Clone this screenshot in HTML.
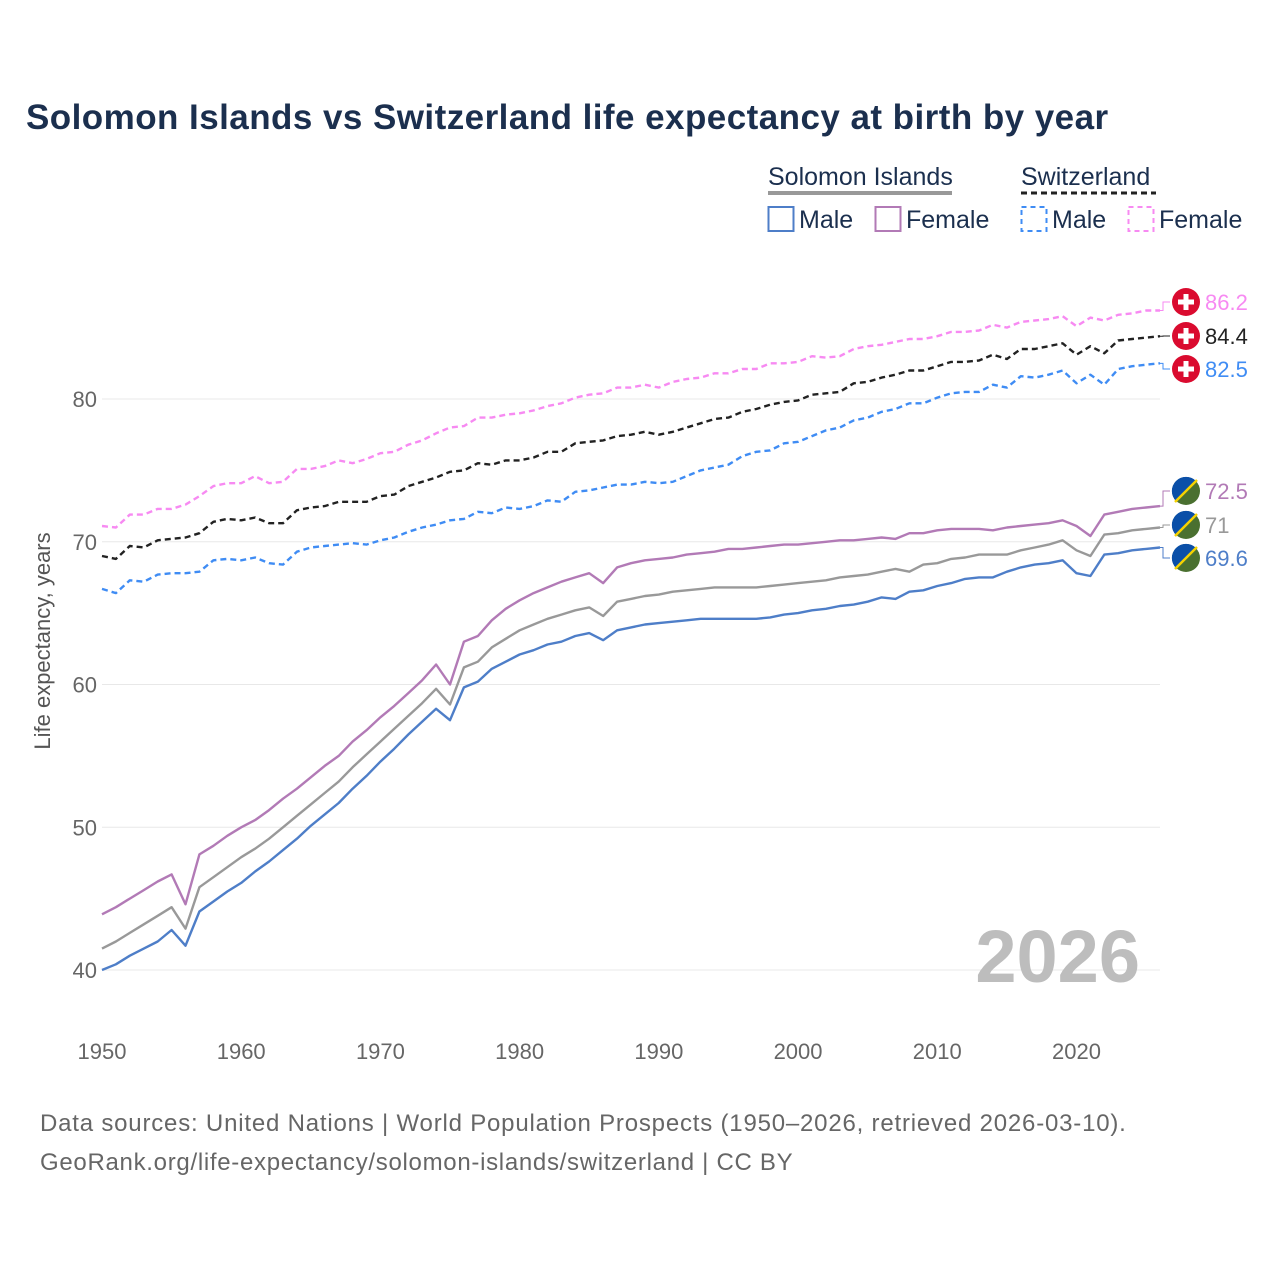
<!DOCTYPE html>
<html><head><meta charset="utf-8"><style>
body{margin:0;background:#fff;font-family:"Liberation Sans",sans-serif}
svg text{font-family:"Liberation Sans",sans-serif}
</style></head><body>
<svg width="1280" height="1280" viewBox="0 0 1280 1280">
<rect width="1280" height="1280" fill="#fff"/>
<text x="26" y="129" font-size="35" font-weight="bold" fill="#1b2f4e" letter-spacing="0.45">Solomon Islands vs Switzerland life expectancy at birth by year</text>
<g>
<text x="768" y="185" font-size="25" fill="#1b2f4e">Solomon Islands</text>
<line x1="768" y1="193" x2="952" y2="193" stroke="#999" stroke-width="4"/>
<text x="1021" y="185" font-size="25" fill="#1b2f4e">Switzerland</text>
<line x1="1021" y1="193" x2="1156" y2="193" stroke="#222" stroke-width="3" stroke-dasharray="6,4"/>
<rect x="768.5" y="207" width="25" height="24" fill="none" stroke="#4e7ec8" stroke-width="2"/>
<text x="799" y="228" font-size="25" fill="#1b2f4e">Male</text>
<rect x="875.5" y="207" width="25" height="24" fill="none" stroke="#b27ab6" stroke-width="2"/>
<text x="906" y="228" font-size="25" fill="#1b2f4e">Female</text>
<rect x="1021.5" y="207" width="25" height="24" fill="none" stroke="#3f8cf4" stroke-width="2" stroke-dasharray="5,4"/>
<text x="1052" y="228" font-size="25" fill="#1b2f4e">Male</text>
<rect x="1128.5" y="207" width="25" height="24" fill="none" stroke="#f78af2" stroke-width="2" stroke-dasharray="5,4"/>
<text x="1159" y="228" font-size="25" fill="#1b2f4e">Female</text>
</g>
<g id="grid"></g>
<g id="yt"></g>
<g id="xt"></g>
<text transform="translate(50,641) rotate(-90)" text-anchor="middle" font-size="22" fill="#555">Life expectancy, years</text>
<text x="1140" y="982" text-anchor="end" font-size="74" font-weight="bold" fill="#bdbdbd">2026</text>
<g id="lines"></g>
<g id="ends"></g>
<text x="40" y="1131" font-size="24" fill="#666" letter-spacing="0.8">Data sources: United Nations | World Population Prospects (1950–2026, retrieved 2026-03-10).</text>
<text x="40" y="1170" font-size="24" fill="#666" letter-spacing="0.7">GeoRank.org/life-expectancy/solomon-islands/switzerland | CC BY</text>
</svg>
<script>
const startYear = 1950;
const xTicks = [1950,1960,1970,1980,1990,2000,2010,2020];
const yTicks = [40,50,60,70,80];
const sbMale = [40.0,40.4,41.0,41.5,42.0,42.8,41.7,44.1,44.8,45.5,
46.1,46.9,47.6,48.4,49.2,50.1,50.9,51.7,52.7,53.6,
54.6,55.5,56.5,57.4,58.3,57.5,59.8,60.2,61.1,61.6,
62.1,62.4,62.8,63.0,63.4,63.6,63.1,63.8,64.0,64.2,
64.3,64.4,64.5,64.6,64.6,64.6,64.6,64.6,64.7,64.9,
65.0,65.2,65.3,65.5,65.6,65.8,66.1,66.0,66.5,66.6,
66.9,67.1,67.4,67.5,67.5,67.9,68.2,68.4,68.5,68.7,
67.8,67.6,69.1,69.2,69.4,69.5,69.6];
const sbFemale = [43.9,44.4,45.0,45.6,46.2,46.7,44.6,48.1,48.7,49.4,
50.0,50.5,51.2,52.0,52.7,53.5,54.3,55.0,56.0,56.8,
57.7,58.5,59.4,60.3,61.4,60.0,63.0,63.4,64.5,65.3,
65.9,66.4,66.8,67.2,67.5,67.8,67.1,68.2,68.5,68.7,
68.8,68.9,69.1,69.2,69.3,69.5,69.5,69.6,69.7,69.8,
69.8,69.9,70.0,70.1,70.1,70.2,70.3,70.2,70.6,70.6,
70.8,70.9,70.9,70.9,70.8,71.0,71.1,71.2,71.3,71.5,
71.1,70.4,71.9,72.1,72.3,72.4,72.5];
const sbTotal = [41.5,42.0,42.6,43.2,43.8,44.4,42.9,45.8,46.5,47.2,
47.9,48.5,49.2,50.0,50.8,51.6,52.4,53.2,54.2,55.1,
56.0,56.9,57.8,58.7,59.7,58.6,61.2,61.6,62.6,63.2,
63.8,64.2,64.6,64.9,65.2,65.4,64.8,65.8,66.0,66.2,
66.3,66.5,66.6,66.7,66.8,66.8,66.8,66.8,66.9,67.0,
67.1,67.2,67.3,67.5,67.6,67.7,67.9,68.1,67.9,68.4,
68.5,68.8,68.9,69.1,69.1,69.1,69.4,69.6,69.8,70.1,
69.4,69.0,70.5,70.6,70.8,70.9,71.0];
const chMale = [66.7,66.4,67.3,67.2,67.7,67.8,67.8,67.9,68.7,68.8,
68.7,68.9,68.5,68.4,69.3,69.6,69.7,69.8,69.9,69.8,
70.1,70.3,70.7,71.0,71.2,71.5,71.6,72.1,72.0,72.4,
72.3,72.5,72.9,72.8,73.5,73.6,73.8,74.0,74.0,74.2,
74.1,74.2,74.6,75.0,75.2,75.4,76.0,76.3,76.4,76.9,
77.0,77.4,77.8,78.0,78.5,78.7,79.1,79.3,79.7,79.7,
80.1,80.4,80.5,80.5,81.0,80.8,81.6,81.5,81.7,82.0,
81.1,81.7,81.0,82.1,82.3,82.4,82.5];
const chFemale = [71.1,71.0,71.9,71.9,72.3,72.3,72.6,73.2,73.9,74.1,
74.1,74.6,74.1,74.2,75.1,75.1,75.3,75.7,75.5,75.8,
76.2,76.3,76.8,77.1,77.6,78.0,78.1,78.7,78.7,78.9,
79.0,79.2,79.5,79.7,80.1,80.3,80.4,80.8,80.8,81.0,
80.8,81.2,81.4,81.5,81.8,81.8,82.1,82.1,82.5,82.5,
82.6,83.0,82.9,83.0,83.5,83.7,83.8,84.0,84.2,84.2,
84.4,84.7,84.7,84.8,85.2,85.0,85.4,85.5,85.6,85.8,
85.1,85.7,85.5,85.9,86.0,86.2,86.2];
const chTotal = [69.0,68.8,69.7,69.6,70.1,70.2,70.3,70.6,71.4,71.6,
71.5,71.7,71.3,71.3,72.2,72.4,72.5,72.8,72.8,72.8,
73.2,73.3,73.9,74.2,74.5,74.9,75.0,75.5,75.4,75.7,
75.7,75.9,76.3,76.3,76.9,77.0,77.1,77.4,77.5,77.7,
77.5,77.7,78.0,78.3,78.6,78.7,79.1,79.3,79.6,79.8,
79.9,80.3,80.4,80.5,81.1,81.2,81.5,81.7,82.0,82.0,
82.3,82.6,82.6,82.7,83.1,82.8,83.5,83.5,83.7,83.9,
83.1,83.7,83.2,84.1,84.2,84.3,84.4];

const NS='http://www.w3.org/2000/svg';
const xS = y => 102 + (y-1950)*(1160-102)/76;
const yS = v => 970 - (v-40)*(970-399)/40;
function mk(tag, attrs, parent){const e=document.createElementNS(NS,tag);for(const k in attrs)e.setAttribute(k,attrs[k]);parent.appendChild(e);return e;}
const grid=document.getElementById('grid'), yt=document.getElementById('yt'), xt=document.getElementById('xt');
yTicks.forEach(v=>{
  const l=mk('line',{x1:102,x2:1160,y1:yS(v),y2:yS(v),stroke:'#e8e8e8','stroke-width':1},grid);
  
  
  const t=mk('text',{x:97,y:yS(v)+8,'text-anchor':'end','font-size':22,fill:'#666'},yt);
  t.textContent=v;
  
  
});
xTicks.forEach(v=>{
  const t=mk('text',{x:xS(v),y:1059,'text-anchor':'middle','font-size':22,fill:'#666'},xt);
  t.textContent=v;
  
  
});
const series=[
 {d:sbMale,c:'#4e7ec8',dash:null,n:'line-solomon-male',ly:558,flag:'sb'},
 {d:sbTotal,c:'#999999',dash:null,n:'line-solomon-total',ly:525,flag:'sb'},
 {d:sbFemale,c:'#b27ab6',dash:null,n:'line-solomon-female',ly:491,flag:'sb'},
 {d:chMale,c:'#3f8cf4',dash:'6,4',n:'line-switzerland-male',ly:369,flag:'ch'},
 {d:chTotal,c:'#222222',dash:'6,4',n:'line-switzerland-total',ly:336,flag:'ch'},
 {d:chFemale,c:'#f78af2',dash:'6,4',n:'line-switzerland-female',ly:302,flag:'ch'}
];
const lines=document.getElementById('lines'), ends=document.getElementById('ends');
series.forEach(s=>{
  const pts=s.d.map((v,i)=>xS(startYear+i).toFixed(1)+','+yS(v).toFixed(1)).join(' ');
  const p=mk('polyline',{points:pts,fill:'none',stroke:s.c,'stroke-width':2.4,'stroke-linejoin':'round'},lines);
  if(s.dash)p.setAttribute('stroke-dasharray',s.dash);
  
  
  const last=s.d[s.d.length-1], lx=xS(startYear+s.d.length-1), yy=yS(last);
  const c=mk('polyline',{points:`${lx},${yy} ${lx+3},${yy} ${lx+3},${s.ly} ${lx+10},${s.ly}`,fill:'none',stroke:s.c,'stroke-width':1},ends);
  
  
  const g=mk('g',{},ends);
  
  
  const cx=1186, cy=s.ly;
  if(s.flag==='ch'){
    mk('circle',{cx:cx,cy:cy,r:14,fill:'#da0b2f'},g);
    mk('rect',{x:cx-2.5,y:cy-8,width:5,height:16,fill:'#fff'},g);
    mk('rect',{x:cx-8,y:cy-2.5,width:16,height:5,fill:'#fff'},g);
  } else {
    mk('circle',{cx:cx,cy:cy,r:14,fill:'#4a7030'},g);
    mk('path',{d:`M${cx+10},${cy-10} A14,14 0 1 0 ${cx-10},${cy+10} Z`,fill:'#0a4fa8'},g);
    mk('line',{x1:cx-11,y1:cy+11,x2:cx+11,y2:cy-11,stroke:'#f5d200','stroke-width':2.5},g);
  }
  const t=mk('text',{x:1205,y:s.ly+8,'font-size':22,fill:s.c},ends);
  t.textContent=last;
  
  
});
</script>
</body></html>
